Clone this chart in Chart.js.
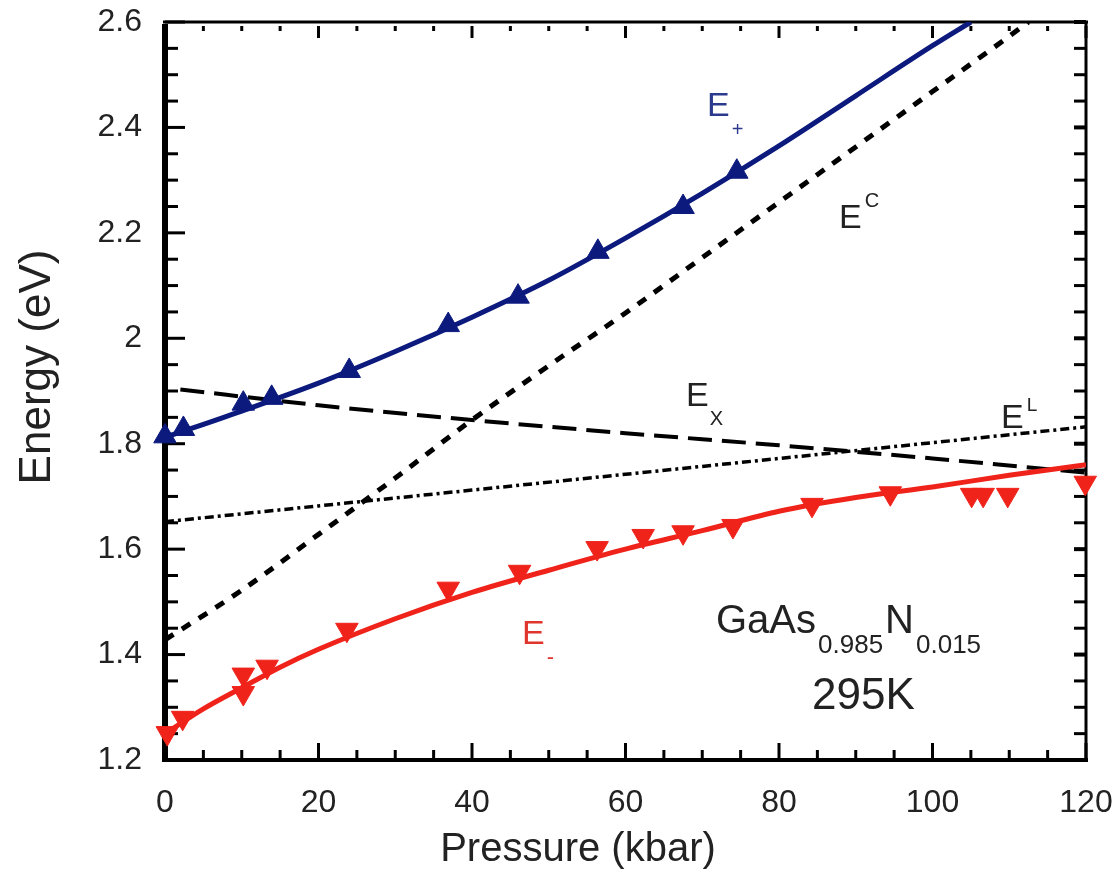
<!DOCTYPE html>
<html><head><meta charset="utf-8">
<script src="https://cdn.jsdelivr.net/npm/chart.js@4.4.0/dist/chart.umd.min.js"></script>
<style>html,body{margin:0;padding:0;background:#fff;}#wrap{width:1117px;height:871px;}</style>
</head><body><div id="wrap"><canvas id="c" width="1117" height="871"></canvas></div>
<script>
// ---- data ----
const xTickValues = [0, 20, 40, 60, 80, 100, 120];
const xTickLabels = ['0', '20', '40', '60', '80', '100', '120'];
const yTickValues = [1.2, 1.4, 1.6, 1.8, 2.0, 2.2, 2.4, 2.6];
const yTickLabels = ['1.2', '1.4', '1.6', '1.8', '2', '2.2', '2.4', '2.6'];

// measured E+ (up triangles)
const ePlusP = [0, 2.4, 10.2, 13.9, 24.0, 36.9, 46.0, 56.4, 67.5, 74.5];
const ePlusE = [1.814, 1.828, 1.876, 1.887, 1.938, 2.025, 2.079, 2.164, 2.249, 2.316];
// measured E- (down triangles)
const eMinusP = [0.3, 2.3, 10.2, 10.2, 13.3, 23.7, 36.9, 46.2, 56.3, 62.3, 67.5, 74.0, 84.3, 94.5, 105.1, 106.6, 109.8, 119.9];
const eMinusE = [1.251, 1.280, 1.327, 1.362, 1.377, 1.447, 1.525, 1.557, 1.602, 1.625, 1.632, 1.644, 1.684, 1.706, 1.703, 1.703, 1.703, 1.726];

// fitted E+ curve
const ePlusFitP = [0, 10, 20, 30, 40, 50, 60, 70, 80, 90, 100, 105];
const ePlusFitE = [1.812, 1.862, 1.915, 1.975, 2.040, 2.110, 2.190, 2.275, 2.365, 2.460, 2.555, 2.600];
// fitted E- curve
const eMinusFitP = [0, 5, 10, 15, 20, 30, 40, 50, 60, 70, 80, 90, 100, 110, 120];
const eMinusFitE = [1.250, 1.297, 1.337, 1.376, 1.410, 1.468, 1.518, 1.560, 1.600, 1.635, 1.672, 1.698, 1.718, 1.740, 1.760];
// E_X (long dashes)
const eXP = [2, 20, 40, 60, 80, 100, 120];
const eXE = [1.903, 1.873, 1.845, 1.820, 1.797, 1.772, 1.745];
// E^L (dash-dot)
const eLP = [0, 20, 40, 60, 80, 100, 120];
const eLE = [1.652, 1.682, 1.712, 1.742, 1.772, 1.802, 1.832];
// E^C (short dashes)
const eCP = [0, 10, 20, 30, 40, 50, 60, 70, 80, 90, 100, 110, 112.5];
const eCE = [1.428, 1.522, 1.628, 1.735, 1.845, 1.948, 2.048, 2.153, 2.258, 2.363, 2.468, 2.573, 2.600];

const pts = (xs, ys) => xs.map((v, i) => ({x: v, y: ys[i]}));

const BLUE = '#0c1a7e';
const RED = '#f0231b';
const FONT = '"Liberation Sans", Arial, Helvetica, sans-serif';

function line(ctx, x1, y1, x2, y2) { ctx.beginPath(); ctx.moveTo(x1, y1); ctx.lineTo(x2, y2); ctx.stroke(); }

function drawParts(ctx, x, parts, color) {
  ctx.fillStyle = color;
  ctx.textAlign = 'left';
  ctx.textBaseline = 'alphabetic';
  let cx = x;
  for (const p of parts) {
    ctx.font = p.size + 'px ' + FONT;
    ctx.fillText(p.t, cx + (p.dx || 0), p.y);
    cx += ctx.measureText(p.t).width + (p.dx || 0);
  }
}

const framePlugin = {
  id: 'frame',
  beforeDatasetsDraw(chart) {
    const {ctx, chartArea: a, scales: {x, y}} = chart;
    ctx.save();
    ctx.strokeStyle = '#000';
    ctx.lineCap = 'butt';
    ctx.lineWidth = 3;
    for (let k = 0; k <= 24; k++) {
      const v = k * 5, px = x.getPixelForValue(v), major = v % 20 === 0;
      line(ctx, px, a.bottom, px, a.bottom - (major ? 17 : 10));
      line(ctx, px, a.top + 4, px, a.top + (major ? 16 : 9));
    }
    for (let k = 0; k <= 28; k++) {
      const v = 1.2 + k * 0.05, py = y.getPixelForValue(v), major = k % 4 === 0;
      line(ctx, a.left, py, a.left + (major ? 20 : 13), py);
      ctx.lineWidth = major ? 4 : 3;
      line(ctx, a.right, py, a.right - 12, py);
      ctx.lineWidth = 3;
    }
    ctx.lineWidth = 3;
    line(ctx, a.left - 2, a.top, a.right + 2, a.top);
    line(ctx, a.right, a.top, a.right, a.bottom + 2);
    ctx.lineWidth = 4;
    line(ctx, a.left - 3, a.bottom, a.right + 2, a.bottom);
    ctx.lineWidth = 6;
    line(ctx, a.left, a.top + 2, a.left, a.bottom + 2);
    ctx.restore();
  },
  afterDraw(chart) {
    const {ctx} = chart;
    ctx.save();
    // curve labels
    drawParts(ctx, 707, [{t: 'E', size: 34, y: 116}, {t: '+', size: 20, y: 136, dx: 2}], '#2c3a8e');
    drawParts(ctx, 839, [{t: 'E', size: 34, y: 228}, {t: 'C', size: 20, y: 207, dx: 3}], '#222');
    drawParts(ctx, 686, [{t: 'E', size: 34, y: 406}, {t: 'X', size: 20, y: 425, dx: 1}], '#222');
    drawParts(ctx, 1001, [{t: 'E', size: 34, y: 428}, {t: 'L', size: 19, y: 411, dx: 3}], '#222');
    drawParts(ctx, 522, [{t: 'E', size: 34, y: 644}, {t: '-', size: 22, y: 664, dx: 2}], '#e0352c');
    // sample label
    drawParts(ctx, 716, [
      {t: 'GaAs', size: 40, y: 633},
      {t: '0.985', size: 26, y: 653, dx: 2},
      {t: 'N', size: 40, y: 633, dx: 2},
      {t: '0.015', size: 26, y: 653, dx: 2}
    ], '#222');
    drawParts(ctx, 812, [{t: '295K', size: 44, y: 709}], '#222');
    // axis titles
    ctx.fillStyle = '#222';
    ctx.font = '40px ' + FONT;
    ctx.textAlign = 'center';
    ctx.textBaseline = 'alphabetic';
    ctx.fillText('Pressure (kbar)', 578, 861);
    ctx.translate(50, 367);
    ctx.rotate(-Math.PI / 2);
    ctx.font = '44px ' + FONT;
    ctx.fillText('Energy (eV)', 0, 0);
    ctx.restore();
  }
};

const noPad = s => { s.paddingTop = 0; s.paddingBottom = 0; s.paddingLeft = 0; s.paddingRight = 0; };

new Chart(document.getElementById('c'), {
  type: 'scatter',
  data: {
    datasets: [
      {label: 'E+ data', data: pts(ePlusP, ePlusE), pointStyle: 'triangle', pointRadius: 13, pointHoverRadius: 13,
        backgroundColor: BLUE, borderColor: BLUE, borderWidth: 1, showLine: false, clip: false},
      {label: 'E- data', data: pts(eMinusP, eMinusE), pointStyle: 'triangle', rotation: 180, pointRadius: 13, pointHoverRadius: 13,
        backgroundColor: RED, borderColor: RED, borderWidth: 1, showLine: false, clip: false},
      {label: 'E+ fit', data: pts(ePlusFitP, ePlusFitE), showLine: true, pointRadius: 0, borderColor: BLUE, borderWidth: 5, cubicInterpolationMode: 'monotone'},
      {label: 'E- fit', data: pts(eMinusFitP, eMinusFitE), showLine: true, pointRadius: 0, borderColor: RED, borderWidth: 5, cubicInterpolationMode: 'monotone'},
      {label: 'EX', data: pts(eXP, eXE), showLine: true, pointRadius: 0, borderColor: '#000', borderWidth: 4, borderDash: [24, 10], cubicInterpolationMode: 'monotone'},
      {label: 'EL', data: pts(eLP, eLE), showLine: true, pointRadius: 0, borderColor: '#000', borderWidth: 3.5, borderDash: [9, 4, 3, 4]},
      {label: 'EC', data: pts(eCP, eCE), showLine: true, pointRadius: 0, borderColor: '#000', borderWidth: 5, borderDash: [10, 10], cubicInterpolationMode: 'monotone'}
    ]
  },
  options: {
    responsive: false,
    animation: false,
    devicePixelRatio: 1,
    layout: {padding: {left: 0, top: 22, right: 31, bottom: 0}},
    plugins: {legend: {display: false}, tooltip: {enabled: false}},
    scales: {
      x: {
        type: 'linear', min: 0, max: 120,
        afterFit: s => { s.height = 111; noPad(s); },
        afterBuildTicks: s => { s.ticks = xTickValues.map(v => ({value: v})); },
        grid: {display: false, drawTicks: false},
        border: {display: false},
        ticks: {padding: 24, color: '#222', font: {family: FONT, size: 32}, maxRotation: 0,
          callback: (v, i) => xTickLabels[i]}
      },
      y: {
        type: 'linear', min: 1.2, max: 2.6,
        afterFit: s => { s.width = 165; noPad(s); },
        afterBuildTicks: s => { s.ticks = yTickValues.map(v => ({value: v})); },
        grid: {display: false, drawTicks: false},
        border: {display: false},
        ticks: {padding: 23, color: '#222', font: {family: FONT, size: 32},
          callback: (v, i) => yTickLabels[i]}
      }
    }
  },
  plugins: [framePlugin]
});
</script>
</body></html>
